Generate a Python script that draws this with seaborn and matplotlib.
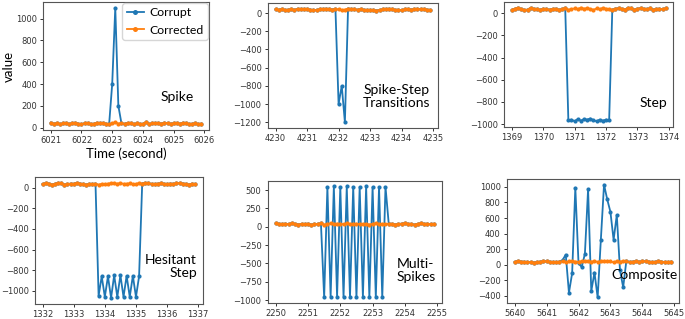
import numpy as np
import pandas as pd
import matplotlib
matplotlib.use("Agg")
import matplotlib.pyplot as plt
import seaborn as sns

# start time of each 5-second window (sampled every 0.1 s, 50 samples)
starts = [6021, 4230, 1369, 1332, 2250, 5640]
titles = ["Spike", "Spike-Step\nTransitions", "Step", "Hesitant\nStep", "Multi-\nSpikes", "Composite"]

# corrected signal
corr_spike = [45, 35, 40, 30, 38, 42, 33, 40, 45, 35, 30, 40, 38, 32, 35, 45, 40, 42, 35, 30,
              38, 50, 36, 40, 35, 42, 40, 30, 38, 30, 35, 50, 32, 38, 42, 40, 36, 45, 40, 35,
              38, 42, 34, 45, 40, 30, 35, 38, 32, 36]
corr_spikestep = [40, 35, 45, 30, 38, 42, 35, 48, 40, 45, 40, 38, 30, 35, 40, 45, 48, 42, 38, 45,
                  40, 35, 38, 50, 45, 40, 38, 45, 35, 30, 32, 30, 28, 35, 40, 45, 48, 42, 35, 38,
                  30, 40, 45, 38, 42, 48, 40, 45, 38, 35]
corr_step = [30, 40, 50, 35, 28, 32, 48, 38, 35, 30, 40, 35, 32, 38, 40, 30, 35, 48, 30, 38,
             42, 35, 50, 40, 45, 38, 30, 42, 35, 48, 40, 38, 30, 40, 45, 38, 32, 48, 42, 30,
             40, 45, 38, 35, 42, 30, 38, 40, 35, 42]
corr_hesitant = [35, 45, 40, 30, 38, 48, 45, 30, 35, 40, 38, 48, 40, 35, 30, 38, 35, 40, 30, 38,
                 35, 40, 45, 42, 40, 45, 38, 40, 42, 35, 38, 45, 40, 48, 42, 38, 35, 40, 42, 38,
                 35, 40, 38, 42, 45, 40, 38, 30, 40, 35]
corr_multi = [45, 40, 38, 42, 35, 48, 38, 30, 40, 35, 42, 28, 35, 40, 45, 30, 40, 45, 38, 42,
              40, 35, 45, 38, 40, 42, 35, 38, 40, 30, 40, 45, 38, 40, 35, 42, 40, 30, 38, 42,
              45, 40, 35, 30, 40, 45, 38, 42, 35, 40]
corr_composite = [35, 50, 40, 38, 30, 35, 28, 32, 40, 45, 42, 38, 35, 30, 40, 45, 30, 42, 48, 40,
                  38, 45, 42, 48, 40, 45, 38, 42, 48, 45, 42, 30, 45, 40, 48, 42, 35, 40, 45, 38,
                  42, 45, 40, 30, 35, 48, 40, 35, 30, 40]

# corrupted segments: (first sample index, values); elsewhere corrupt == corrected
seg_spike = (20, [400, 1100, 200])
seg_spikestep = (20, [-1000, -800, -1200])
seg_step = (18, [-965, -960, -975, -955, -970, -955, -960, -950, -965, -975, -960, -970, -960, -965])
seg_hesitant = (18, [-1050, -860, -1060, -860, -1070, -850, -1060, -850, -1060, -855, -1060, -855,
                     -1060, -860])
seg_multi = (15, [-965, 540, -955, 550, -955, 545, -960, 550, -960, 545, -965, 545, -960, 550,
                  -965, 540, -965, 545, -965, 545])
seg_composite = (15, [60, 130, -360, -110, 990, 20, -30, 140, 970, -340, -100, -420, 320, 1030,
                      840, 680, 320, 640, -70, -290, 50])

corrected = [corr_spike, corr_spikestep, corr_step, corr_hesitant, corr_multi, corr_composite]
segments = [seg_spike, seg_spikestep, seg_step, seg_hesitant, seg_multi, seg_composite]

# y tick values per panel (None = automatic)
yticks = [[0, 200, 400, 600, 800, 1000],
          [0, -200, -400, -600, -800, -1000, -1200],
          None,
          None,
          [500, 250, 0, -250, -500, -750, -1000],
          [1000, 800, 600, 400, 200, 0, -200, -400]]

# axes rectangles [left, bottom, width, height] in figure fraction
rects = [[0.063, 0.592, 0.242, 0.402],
         [0.391, 0.599, 0.248, 0.392],
         [0.736, 0.602, 0.247, 0.392],
         [0.051, 0.048, 0.245, 0.397],
         [0.391, 0.050, 0.254, 0.383],
         [0.740, 0.050, 0.251, 0.389]]
# label positions (axes fraction) and alignment
label_pos = [(0.81, 0.26, "center"), (0.76, 0.25, "center"), (0.88, 0.19, "center"),
             (0.965, 0.29, "right"), (0.74, 0.27, "left"), (0.80, 0.23, "center")]

calibri_like = ["Lato", "DejaVu Sans"]
fig = plt.figure(figsize=(6.85, 3.19), dpi=100)

for i in range(6):
    t = starts[i] + np.arange(50) * 0.1
    corr = np.array(corrected[i], dtype=float)
    bad = corr.copy()
    s, vals = segments[i]
    bad[s:s + len(vals)] = vals
    df = pd.DataFrame({"time": np.concatenate([t, t]),
                       "value": np.concatenate([bad, corr]),
                       "series": ["Corrupt"] * 50 + ["Corrected"] * 50})
    ax = fig.add_axes(rects[i])
    sns.lineplot(data=df, x="time", y="value", hue="series", marker="o", markersize=3,
                 markeredgewidth=0, linewidth=1.3, palette=["#1f77b4", "#ff7f0e"],
                 legend=(i == 0), ax=ax)
    ax.set_xticks(range(starts[i], starts[i] + 6))
    if yticks[i] is not None:
        ax.set_yticks(yticks[i])
    ax.tick_params(labelsize=6, length=2.5, width=0.7, pad=2, colors="#333333")
    for sp in ax.spines.values():
        sp.set_color("#555555")
        sp.set_linewidth(0.8)
    if i == 0:
        ax.set_xlabel("Time (second)", fontsize=9.5, family=calibri_like)
        ax.set_ylabel("value", fontsize=9.5, family=calibri_like)
        ax.yaxis.set_label_coords(-0.17, 0.5)
        ax.xaxis.set_label_coords(0.5, -0.135)
        leg = ax.legend(loc="upper right", borderaxespad=0.1, handlelength=1.4,
                        handletextpad=0.45, borderpad=0.35, markerscale=1.2,
                        prop={"family": calibri_like, "size": 8.8})
    else:
        ax.set_xlabel("")
        ax.set_ylabel("")
    x, y, ha = label_pos[i]
    ax.text(x, y, titles[i], transform=ax.transAxes, ha=ha, va="center", fontsize=10,
            family=calibri_like, linespacing=1.1)

fig.savefig("out.png", dpi=100)
